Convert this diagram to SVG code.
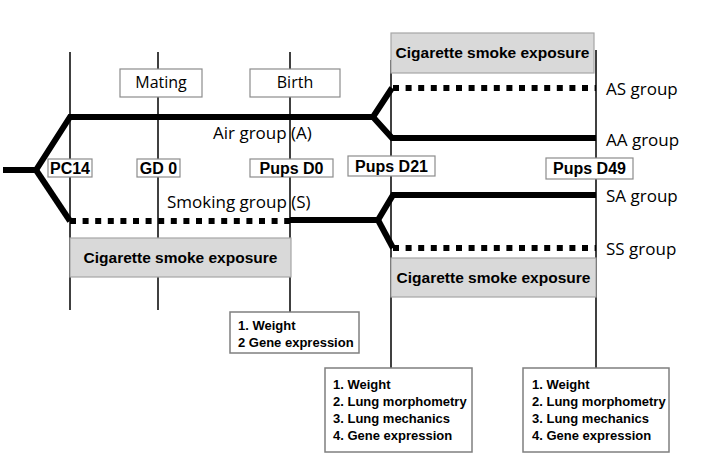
<svg xmlns="http://www.w3.org/2000/svg" width="718" height="469" viewBox="0 0 718 469">
<style>
.vl{stroke:#000;stroke-width:1.5;fill:none}
.thick{stroke:#000;stroke-width:6;fill:none;stroke-linejoin:miter}
.dot{stroke:#000;stroke-width:6;fill:none;stroke-dasharray:6 6.6}
.lbl{fill:#fff;stroke:#8c8c8c;stroke-width:1.2}
.cig{fill:#d9d9d9;stroke:#a6a6a6;stroke-width:1.2}
.mb{fill:#fff;stroke:#7f7f7f;stroke-width:1.5}
.bt{font-family:"Liberation Sans",Arial,sans-serif;font-weight:bold;fill:#000}
.st{font-family:"Open Sans","Noto Sans",sans-serif;fill:#000}
</style>
<rect width="718" height="469" fill="#fff"/>
<g id="connectors">
<line class="vl" x1="70" y1="52" x2="70" y2="310"/>
<line class="vl" x1="158" y1="52" x2="158" y2="310"/>
<line class="vl" x1="290" y1="52" x2="290" y2="312"/>
<line class="vl" x1="391" y1="60" x2="391" y2="368"/>
<line class="vl" x1="596" y1="50" x2="596" y2="368"/>
<polyline class="thick" points="3,170 36,170 70,117 373,117 392,88"/>
<polyline class="thick" points="36,170 70,221"/>
<polyline class="thick" points="373,117 392,138 596,138"/>
<line class="dot" x1="70" y1="221" x2="290" y2="221"/>
<polyline class="thick" points="290,220 378,220 393,195 596,195"/>
<polyline class="thick" points="378,220 393,248"/>
<line class="dot" x1="393" y1="88" x2="596" y2="88"/>
<line class="dot" x1="393" y1="248" x2="596" y2="248"/>
</g>
<g id="cig-top"><rect class="cig" x="391" y="33" width="203" height="40"/><text class="bt" x="492.5" y="58" font-size="15.5" text-anchor="middle">Cigarette smoke exposure</text></g>
<g id="cig-left"><rect class="cig" x="70" y="238" width="221" height="39"/><text class="bt" x="180.5" y="263" font-size="15.5" text-anchor="middle">Cigarette smoke exposure</text></g>
<g id="cig-bottom"><rect class="cig" x="391" y="258" width="205" height="39"/><text class="bt" x="493.5" y="283" font-size="15.5" text-anchor="middle">Cigarette smoke exposure</text></g>
<g id="mating"><rect class="lbl" x="120" y="69" width="82" height="28"/><text class="st" x="161" y="88" font-size="16" text-anchor="middle">Mating</text></g>
<g id="birth"><rect class="lbl" x="250" y="69" width="90" height="28"/><text class="st" x="295" y="88" font-size="16" text-anchor="middle">Birth</text></g>
<g id="pc14"><rect class="lbl" x="48" y="159" width="44" height="18"/><text class="bt" x="70" y="174" font-size="16" text-anchor="middle">PC14</text></g>
<g id="gd0"><rect class="lbl" x="137" y="159" width="43" height="18"/><text class="bt" x="158.5" y="174" font-size="16" text-anchor="middle">GD 0</text></g>
<g id="pupsd0"><rect class="lbl" x="250" y="159" width="83" height="18"/><text class="bt" x="291.5" y="174" font-size="16" text-anchor="middle">Pups D0</text></g>
<g id="pupsd21"><rect class="lbl" x="348" y="156" width="87" height="20"/><text class="bt" x="391.5" y="172" font-size="16" text-anchor="middle">Pups D21</text></g>
<g id="pupsd49"><rect class="lbl" x="546" y="158" width="87" height="21"/><text class="bt" x="589.5" y="174" font-size="16" text-anchor="middle">Pups D49</text></g>
<g id="air"><text class="st" x="213" y="139" font-size="17">Air group (A)</text></g>
<g id="smoking"><text class="st" x="167" y="208" font-size="17">Smoking group (S)</text></g>
<g id="as"><text class="st" x="606" y="95" font-size="17">AS group</text></g>
<g id="aa"><text class="st" x="606" y="146" font-size="17">AA group</text></g>
<g id="sa"><text class="st" x="606" y="202" font-size="17">SA group</text></g>
<g id="ss"><text class="st" x="606" y="255" font-size="17">SS group</text></g>
<g id="m0"><rect class="mb" x="230" y="312" width="129" height="41"/><text class="bt" x="238" y="330" font-size="13">1. Weight</text><text class="bt" x="238" y="347" font-size="13">2 Gene expression</text></g>
<g id="m21"><rect class="mb" x="325" y="368" width="147" height="84"/><text class="bt" x="333" y="389" font-size="13">1. Weight</text><text class="bt" x="333" y="406" font-size="13">2. Lung morphometry</text><text class="bt" x="333" y="423" font-size="13">3. Lung mechanics</text><text class="bt" x="333" y="440" font-size="13">4. Gene expression</text></g>
<g id="m49"><rect class="mb" x="523" y="368" width="146" height="84"/><text class="bt" x="532" y="389" font-size="13">1. Weight</text><text class="bt" x="532" y="406" font-size="13">2. Lung morphometry</text><text class="bt" x="532" y="423" font-size="13">3. Lung mechanics</text><text class="bt" x="532" y="440" font-size="13">4. Gene expression</text></g>
</svg>
